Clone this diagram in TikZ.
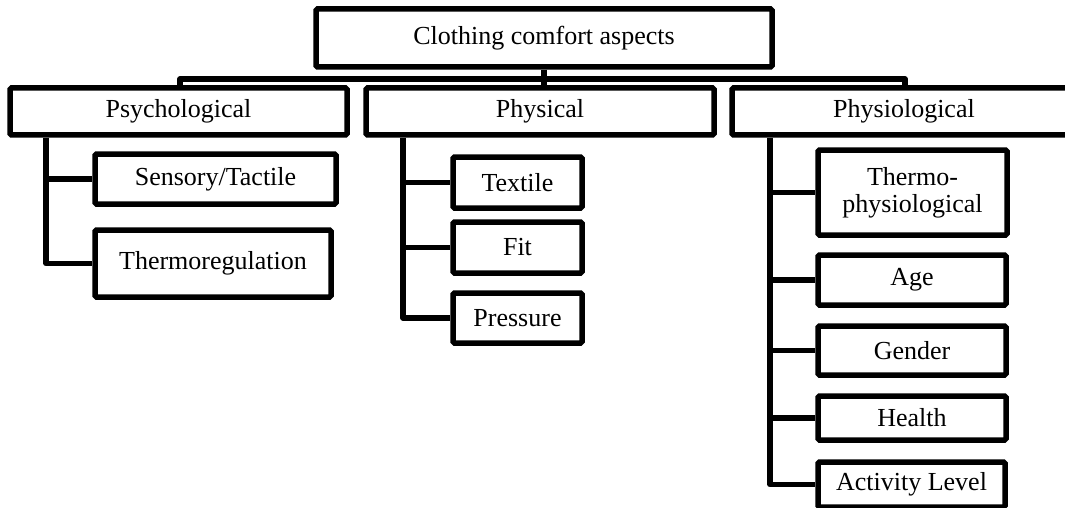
\documentclass[tikz,border=0pt]{standalone}
\usepackage{fontspec}
\setmainfont{Liberation Serif}
\begin{document}
\begin{tikzpicture}[x=1pt,y=-1pt,
  box/.style={draw, line width=5.5pt, rounded corners=1.5pt, inner sep=0pt,
    align=center, font=\fontsize{26}{27}\selectfont},
  link/.style={line width=5.5pt, line join=round}]
  \useasboundingbox (0,0) rectangle (1065,508);
  \clip (0,0) rectangle (1065,508);

  % root
  \node[box, minimum width=456pt, minimum height=58pt] (root) at (544,38) {Clothing comfort aspects};

  % main aspects
  \node[box, minimum width=337pt, minimum height=47pt] (psych)  at (178.5,111.5) {Psychological};
  \node[box, minimum width=348pt, minimum height=47pt] (phys)   at (540,111.5)   {Physical};
  \node[box, minimum width=344pt, minimum height=47pt] (physio) at (904,111.5)   {Physiological};

  % psychological sub-items
  \node[box, minimum width=241pt, minimum height=50pt] (sens)  at (215.5,179)   {Sensory/Tactile};
  \node[box, minimum width=236pt, minimum height=67pt] (therm) at (213,263.5)   {Thermoregulation};

  % physical sub-items
  \node[box, minimum width=129pt, minimum height=51pt] (text)  at (517.5,182.5) {Textile};
  \node[box, minimum width=129pt, minimum height=51pt] (fit)   at (517.5,247.5) {Fit};
  \node[box, minimum width=129pt, minimum height=50pt] (press) at (517.5,318)   {Pressure};

  % physiological sub-items
  \node[box, minimum width=189pt, minimum height=85pt] (thph)   at (912.5,192.5) {Thermo-\\physiological};
  \node[box, minimum width=188pt, minimum height=50pt] (age)    at (912,280)     {Age};
  \node[box, minimum width=188pt, minimum height=49pt] (gender) at (912,350.5)   {Gender};
  \node[box, minimum width=188pt, minimum height=44pt] (health) at (912,418)     {Health};
  \node[box, minimum width=187pt, minimum height=45pt] (act)    at (911.5,484.5) {Activity Level};

  % bus from the root to the three aspects
  \coordinate (busL) at (180,79);
  \coordinate (busR) at (905,79);
  \draw[link] (busL |- psych.north) -- (busL) -- (busR) -- (busR |- physio.north);
  \draw[link] (root.south) -- (root.south |- phys.north);

  % trunks
  \coordinate (tA) at (46,0);
  \coordinate (tB) at (403,0);
  \coordinate (tC) at (770,0);

  \draw[link] (tA |- psych.south) |- (therm.west);
  \draw[link] (tA |- sens.west) -- (sens.west);

  \draw[link] (tB |- phys.south) |- (press.west);
  \draw[link] (tB |- text.west) -- (text.west);
  \draw[link] (tB |- fit.west) -- (fit.west);

  \draw[link] (tC |- physio.south) |- (act.west);
  \draw[link] (tC |- thph.west) -- (thph.west);
  \draw[link] (tC |- age.west) -- (age.west);
  \draw[link] (tC |- gender.west) -- (gender.west);
  \draw[link] (tC |- health.west) -- (health.west);
\end{tikzpicture}
\end{document}
